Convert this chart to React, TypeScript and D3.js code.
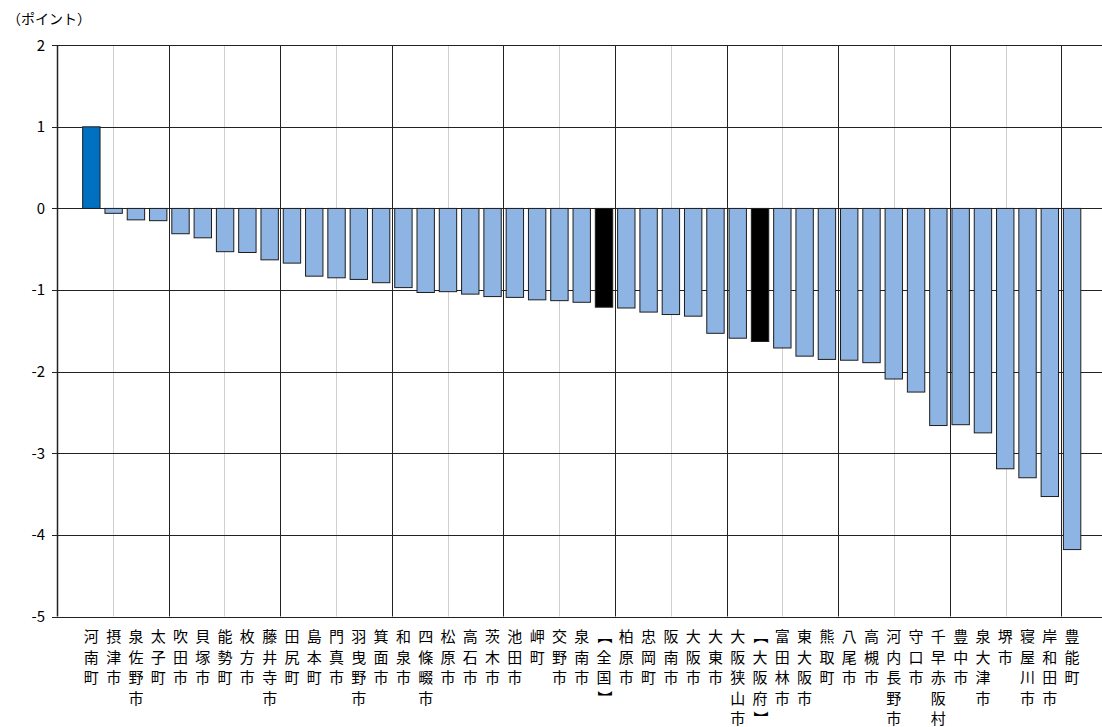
import React from "react";
import * as d3 from "d3";

const categories: string[] = [
  "河南町", "摂津市", "泉佐野市", "太子町", "吹田市", "貝塚市", "能勢町", "枚方市", "藤井寺市", "田尻町",
  "島本町", "門真市", "羽曳野市", "箕面市", "和泉市", "四條畷市", "松原市", "高石市", "茨木市", "池田市",
  "岬町", "交野市", "泉南市", "【全国】", "柏原市", "忠岡町", "阪南市", "大阪市", "大東市", "大阪狭山市",
  "【大阪府】", "富田林市", "東大阪市", "熊取町", "八尾市", "高槻市", "河内長野市", "守口市", "千早赤阪村", "豊中市",
  "泉大津市", "堺市", "寝屋川市", "岸和田市", "豊能町",
];

const values: number[] = [
  1.0, -0.06, -0.14, -0.15, -0.31, -0.36, -0.53, -0.54, -0.63, -0.67,
  -0.83, -0.85, -0.87, -0.91, -0.97, -1.03, -1.02, -1.05, -1.08, -1.09,
  -1.12, -1.13, -1.15, -1.21, -1.22, -1.27, -1.30, -1.32, -1.53, -1.59,
  -1.63, -1.71, -1.81, -1.85, -1.86, -1.89, -2.09, -2.25, -2.66, -2.65,
  -2.75, -3.19, -3.30, -3.53, -4.18,
];

const yTicks: number[] = [2, 1, 0, -1, -2, -3, -4, -5];
const unitLabel = "（ポイント）";

const W = 1102;
const H = 727;
const FONT = "'Noto Sans CJK JP', 'Noto Sans', sans-serif";

export default function App() {
  const y = d3.scaleLinear().domain([-5, 2]).range([616.5, 45.2]);
  const x = d3
    .scaleBand<string>()
    .domain(categories)
    .range([80.2, 80.2 + 22.29 * categories.length])
    .paddingInner(0.22)
    .paddingOuter(0.11);
  const gridX = d3.scaleLinear().domain([0, 18]).range([57, 1061.4]);
  const gridIdx = d3.range(0, 19);

  const fillFor = (c: string, i: number) => {
    if (c.startsWith("【")) return "#000000";
    if (values[i] > 0) return "#0070C0";
    return "#8DB4E2";
  };

  const LABEL_Y0 = 642;
  const LINE_H = 20.5;
  const LABEL_FS = 15;

  return (
    <svg
      width={W}
      height={H}
      style={{ position: "absolute", left: 0, top: 0, background: "#fff" }}
      fontFamily={FONT}
    >
      <rect x={0} y={0} width={W} height={H} fill="#fff" />
      <text x={7} y={24} fontSize={14} fill="#000">{unitLabel}</text>

      {/* vertical gridlines */}
      {gridIdx.map((k) => (
        <line
          key={"vg" + k}
          x1={Math.round(gridX(k)) + 0.5}
          x2={Math.round(gridX(k)) + 0.5}
          y1={y(2)}
          y2={y(-5)}
          stroke={k % 2 === 0 ? "#222" : "#d0d0d0"}
          strokeWidth={k === 0 ? 1.5 : 1}
        />
      ))}

      {/* horizontal gridlines and y ticks */}
      {yTicks.map((t) => (
        <g key={"hg" + t}>
          <line
            x1={52}
            x2={W}
            y1={Math.round(y(t)) + 0.5}
            y2={Math.round(y(t)) + 0.5}
            stroke="#222"
            strokeWidth={1}
          />
          <text
            x={45}
            y={y(t)}
            dy="0.36em"
            textAnchor="end"
            fontSize={15}
            fill="#000"
          >
            {t}
          </text>
        </g>
      ))}

      {/* bars */}
      {categories.map((c, i) => {
        const v = values[i];
        const y0 = y(0);
        const y1 = y(v);
        return (
          <rect
            key={"b" + i}
            x={x(c)}
            y={Math.min(y0, y1)}
            width={x.bandwidth()}
            height={Math.abs(y1 - y0)}
            fill={fillFor(c, i)}
            stroke="#1e1e1e"
            strokeWidth={1}
          />
        );
      })}

      {/* category labels, vertical stacked */}
      {categories.map((c, i) => {
        const cx = (x(c) as number) + x.bandwidth() / 2;
        const chars = Array.from(c);
        return (
          <g key={"l" + i}>
            {chars.map((ch, j) => {
              const base = LABEL_Y0 + j * LINE_H;
              if (ch === "【" || ch === "】") {
                const cy = base - LABEL_FS * 0.36;
                return (
                  <text
                    key={j}
                    transform={`translate(${cx},${cy}) rotate(90)`}
                    textAnchor="middle"
                    dy="0.36em"
                    fontSize={LABEL_FS}
                    fill="#000"
                  >
                    {ch}
                  </text>
                );
              }
              return (
                <text
                  key={j}
                  x={cx}
                  y={base}
                  textAnchor="middle"
                  fontSize={LABEL_FS}
                  fill="#000"
                >
                  {ch}
                </text>
              );
            })}
          </g>
        );
      })}
    </svg>
  );
}
